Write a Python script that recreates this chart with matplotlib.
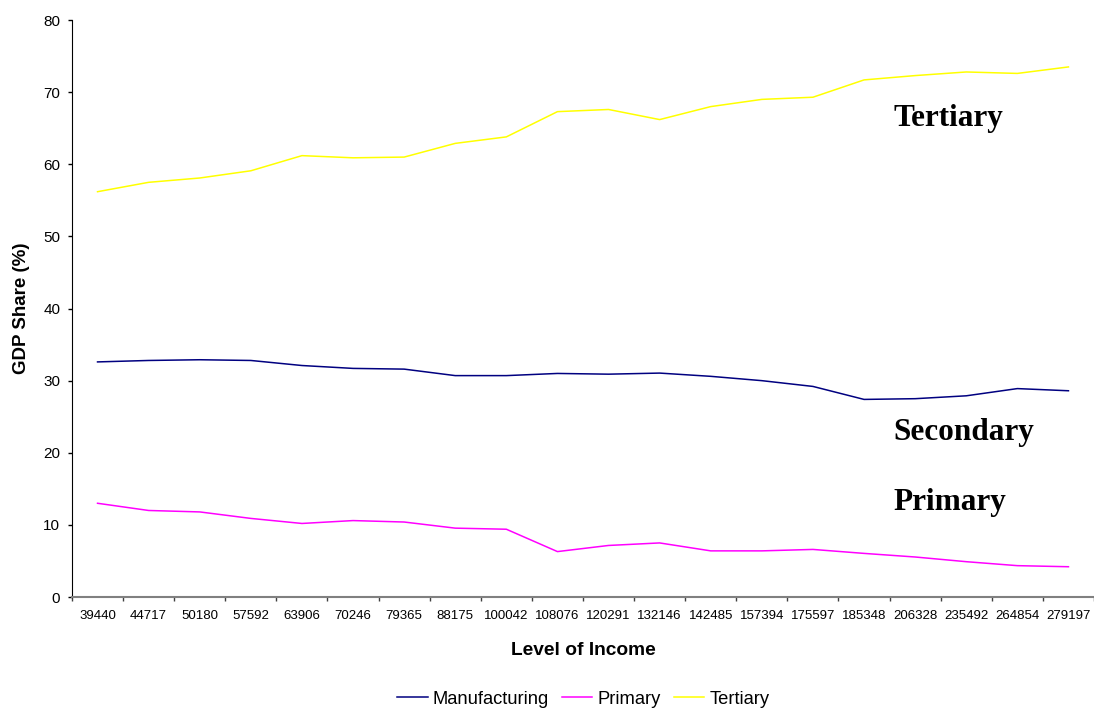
import matplotlib
matplotlib.use("Agg")
import matplotlib.pyplot as plt
from matplotlib.ticker import FixedLocator

income_levels = ["39440", "44717", "50180", "57592", "63906", "70246", "79365",
                 "88175", "100042", "108076", "120291", "132146", "142485",
                 "157394", "175597", "185348", "206328", "235492", "264854",
                 "279197"]

manufacturing = [32.6, 32.8, 32.9, 32.8, 32.1, 31.7, 31.6, 30.7, 30.7, 31.0,
                 30.9, 31.05, 30.6, 30.0, 29.2, 27.4, 27.5, 27.9, 28.9, 28.6]
primary = [13.0, 12.0, 11.8, 10.9, 10.2, 10.6, 10.4, 9.55, 9.4, 6.3,
           7.15, 7.5, 6.4, 6.4, 6.6, 6.05, 5.55, 4.9, 4.35, 4.2]
tertiary = [56.2, 57.5, 58.1, 59.1, 61.2, 60.9, 61.0, 62.9, 63.8, 67.3,
            67.6, 66.2, 68.0, 69.0, 69.3, 71.7, 72.3, 72.8, 72.6, 73.5]

sector_labels = ["Tertiary", "Secondary", "Primary"]
sector_label_values = [65.3, 21.8, 12.06]

sans = ["Liberation Sans", "DejaVu Sans"]
serif = ["Liberation Serif", "DejaVu Serif"]

fig = plt.figure(figsize=(10.94, 7.11), dpi=100)
ax = fig.add_axes([0.0658, 0.1603, 0.9342, 0.8115])

x = list(range(len(income_levels)))
ax.plot(x, manufacturing, color="#000080", lw=1.1, label="Manufacturing")
ax.plot(x, primary, color="#FF00FF", lw=1.1, label="Primary")
ax.plot(x, tertiary, color="#FFFF00", lw=1.1, label="Tertiary")

ax.set_xlim(-0.5, len(income_levels) - 0.5)
ax.set_ylim(0, 80)
ax.set_yticks(range(0, 81, 10))
ax.tick_params(axis="y", labelsize=11, length=3, width=1, color="black", pad=5.5)
for lbl in ax.get_yticklabels():
    lbl.set_fontfamily(sans)

ax.set_xticks(x)
ax.set_xticklabels(income_levels, fontsize=9.5, fontfamily=sans)
ax.tick_params(axis="x", which="major", length=0, pad=9.5)
ax.xaxis.set_minor_locator(FixedLocator([i - 0.5 for i in range(len(income_levels) + 1)]))
ax.tick_params(axis="x", which="minor", length=3, width=1, color="#404040")

for side in ("top", "right"):
    ax.spines[side].set_visible(False)
ax.spines["left"].set_color("black")
ax.spines["bottom"].set_color("#808080")
ax.spines["bottom"].set_linewidth(1.5)

ax.set_ylabel("GDP Share (%)", fontsize=13.5, fontweight="bold", fontfamily=sans)
ax.yaxis.set_label_coords(-0.049, 0.5)
ax.yaxis.label.set_verticalalignment("center")
ax.set_xlabel("Level of Income", fontsize=13.8, fontweight="bold", fontfamily=sans)
ax.xaxis.set_label_coords(0.5, -0.093)
ax.xaxis.label.set_verticalalignment("center")

for name, yv in zip(sector_labels, sector_label_values):
    ax.text(15.57, yv, name, fontsize=22.5, fontweight="bold", fontfamily=serif,
            va="baseline", ha="left")

fig.legend(loc="center", bbox_to_anchor=(583.5 / 1094, 1 - 699 / 711), ncol=3,
           frameon=False, prop={"family": sans, "size": 13.2}, handlelength=1.65,
           columnspacing=0.72, handletextpad=0.28, borderpad=0, borderaxespad=0)

fig.savefig("out.png", dpi=100, facecolor="white")
